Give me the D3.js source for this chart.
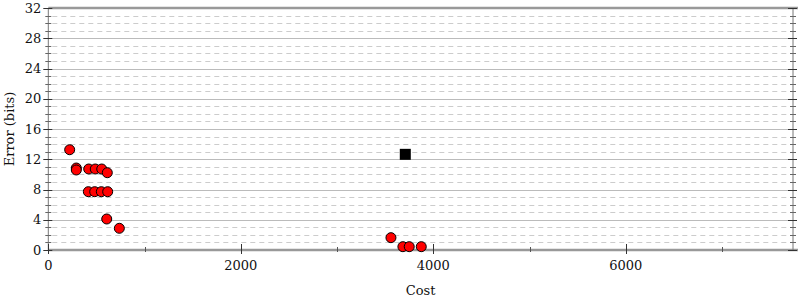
<!DOCTYPE html>
<meta charset="utf-8">
<style>
  body { margin: 0; background: #fff; }
  text { font-family: "DejaVu Serif", serif; font-size: 13px; fill: #111; }
</style>
<div id="chart"></div>
<script src="https://d3js.org/d3.v7.min.js"></script>
<script>

// data: cost vs error (bits)
var costs  = [222, 291, 291, 420, 488, 555, 613, 416, 482, 551, 617, 607, 738, 3560, 3684, 3750, 3875];
var errors = [13.26, 10.84, 10.58, 10.71, 10.71, 10.71, 10.22, 7.71, 7.71, 7.71, 7.71, 4.10, 2.87, 1.63, 0.44, 0.44, 0.44];
var bestCost = [3709];
var bestError = [12.65];
var xTicks = [0, 2000, 4000, 6000];
var xMinor = [1000, 3000, 5000, 7000];
var yTicks = [0, 4, 8, 12, 16, 20, 24, 28, 32];

var width = 800, height = 300;
var mLeft = 48.3, mRight = 793, mTop = 8, mBottom = 250;

var svg = d3.select("#chart").append("svg")
    .attr("width", width)
    .attr("height", height);

var x = d3.scaleLinear().domain([0, 2000]).range([mLeft, mLeft + 192.5]);
var y = d3.scaleLinear().domain([0, 32]).range([mBottom, mTop]);

var xMax = x.invert(mRight);

// minor grid (every bit) dashed
var minor = d3.range(1, 32).filter(function(d) { return d % 4 !== 0; });
svg.append("g").selectAll("line")
    .data(minor)
  .enter().append("line")
    .attr("x1", mLeft + 4).attr("x2", mRight - 4)
    .attr("y1", function(d) { return Math.round(y(d)) + 0.5; })
    .attr("y2", function(d) { return Math.round(y(d)) + 0.5; })
    .attr("stroke", "#ccc")
    .attr("stroke-dasharray", "5,4");

// major grid
svg.append("g").selectAll("line")
    .data(yTicks.filter(function(d) { return d > 0 && d < 32; }))
  .enter().append("line")
    .attr("x1", mLeft).attr("x2", mRight)
    .attr("y1", function(d) { return Math.round(y(d)) + 0.5; })
    .attr("y2", function(d) { return Math.round(y(d)) + 0.5; })
    .attr("stroke", "#bbb");

// top + bottom border lines
[0, 32].forEach(function(v) {
  svg.append("line")
      .attr("x1", mLeft).attr("x2", mRight + 5)
      .attr("y1", y(v)).attr("y2", y(v))
      .attr("stroke", "#999")
      .attr("stroke-width", 2.5);
});

// left and right axes
[mLeft, mRight].forEach(function(px) {
  var g = svg.append("g");
  g.append("line")
      .attr("x1", px).attr("x2", px)
      .attr("y1", mTop).attr("y2", mBottom)
      .attr("stroke", "#777");
  g.selectAll(".mt")
      .data(d3.range(0, 33))
    .enter().append("line")
      .attr("x1", function(d) { return px - (d % 4 === 0 ? 5 : 3); })
      .attr("x2", function(d) { return px + (d % 4 === 0 ? 4 : 3); })
      .attr("y1", function(d) { return Math.round(y(d)) + 0.5; })
      .attr("y2", function(d) { return Math.round(y(d)) + 0.5; })
      .attr("stroke", function(d) { return d % 4 === 0 ? "#333" : "#666"; });
});

svg.append("g").selectAll("text")
    .data(yTicks)
  .enter().append("text")
    .attr("x", mLeft - 7)
    .attr("y", function(d) { return y(d); })
    .attr("dy", "0.35em")
    .attr("text-anchor", "end")
    .text(function(d) { return d; });

// x ticks
svg.append("g").selectAll("line")
    .data(xTicks)
  .enter().append("line")
    .attr("x1", function(d) { return Math.round(x(d)) + 0.5; })
    .attr("x2", function(d) { return Math.round(x(d)) + 0.5; })
    .attr("y1", mBottom - 6).attr("y2", mBottom + 4)
    .attr("stroke", "#333");

svg.append("g").selectAll("line")
    .data(xMinor.filter(function(d) { return d < xMax; }))
  .enter().append("line")
    .attr("x1", function(d) { return Math.round(x(d)) + 0.5; })
    .attr("x2", function(d) { return Math.round(x(d)) + 0.5; })
    .attr("y1", mBottom - 3).attr("y2", mBottom + 2)
    .attr("stroke", "#555");

svg.append("g").selectAll("text")
    .data(xTicks)
  .enter().append("text")
    .attr("x", function(d) { return x(d); })
    .attr("y", 270)
    .attr("text-anchor", "middle")
    .text(function(d) { return d; });

// axis titles
svg.append("text")
    .attr("x", (mLeft + mRight) / 2)
    .attr("y", 295)
    .attr("text-anchor", "middle")
    .text("Cost");

svg.append("text")
    .attr("transform", "translate(14," + ((mTop + mBottom) / 2) + ") rotate(-90)")
    .attr("text-anchor", "middle")
    .text("Error (bits)");

// points
svg.append("g").selectAll("circle")
    .data(costs.map(function(c, i) { return [c, errors[i]]; }))
  .enter().append("circle")
    .attr("cx", function(d) { return x(d[0]); })
    .attr("cy", function(d) { return y(d[1]); })
    .attr("r", 5)
    .attr("fill", "red")
    .attr("stroke", "#000")
    .attr("stroke-width", 1);

svg.append("g").selectAll("rect")
    .data(bestCost.map(function(c, i) { return [c, bestError[i]]; }))
  .enter().append("rect")
    .attr("x", function(d) { return x(d[0]) - 5.5; })
    .attr("y", function(d) { return y(d[1]) - 5.5; })
    .attr("width", 11)
    .attr("height", 11)
    .attr("fill", "#000");

</script>
